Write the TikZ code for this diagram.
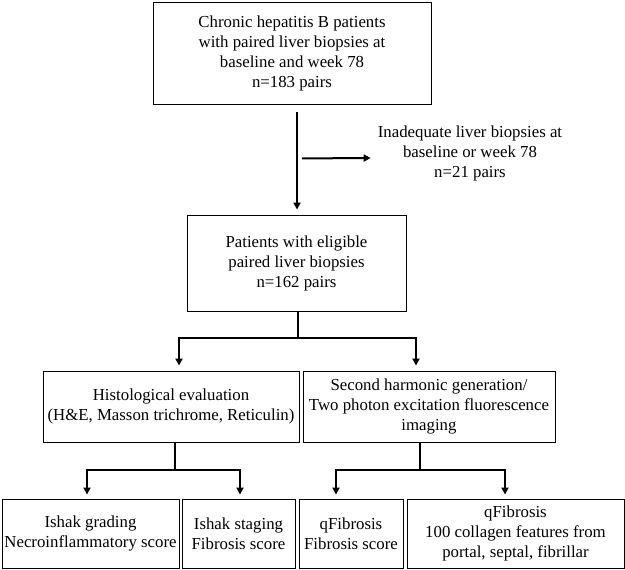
\documentclass[tikz,border=0pt]{standalone}
\usepackage{fontspec}
\setmainfont{Liberation Serif}
\usetikzlibrary{arrows.meta,calc}
\begin{document}
\begin{tikzpicture}[x=1pt,y=-1pt,
  box/.style={draw=black,line width=0.9pt,align=center,inner sep=0pt,font=\fontsize{16.8}{20}\selectfont},
  txt/.style={align=center,inner sep=0pt,font=\fontsize{16.8}{20}\selectfont},
  thk/.style={line width=2pt},
  arr/.style={line width=2pt,-{Triangle[length=7pt,width=7pt]}}]
\useasboundingbox (0,0) rectangle (625,570);
\node[box,minimum width=278pt,minimum height=102pt] (A) at (292,53) {Chronic hepatitis B patients\\with paired liver biopsies at\\baseline and week 78\\n=183 pairs};
\node[txt] (excl) at (470,153) {Inadequate liver biopsies at\\baseline or week 78\\n=21 pairs};
\node[box,minimum width=219pt,minimum height=96pt] (B) at (296.5,263) {Patients with eligible\\paired liver biopsies\\n=162 pairs};
\node[box,minimum width=256pt,minimum height=71pt] (C) at (171,406.5) {Histological evaluation\\(H\&E, Masson trichrome, Reticulin)};
\node[box,minimum width=252pt,minimum height=71pt] (D) at (429,406.5) {Second harmonic generation/\\Two photon excitation fluorescence\\imaging};
\node[box,minimum width=177pt,minimum height=69pt] (E) at (90.5,533.5) {Ishak grading\\Necroinflammatory score};
\node[box,minimum width=113pt,minimum height=69pt] (F) at (238.5,533.5) {Ishak staging\\Fibrosis score};
\node[box,minimum width=104pt,minimum height=69pt] (G) at (351,533.5) {qFibrosis\\Fibrosis score};
\node[box,minimum width=217pt,minimum height=69pt] (H) at (515.5,533.5) {qFibrosis\\100 collagen features from\\portal, septal, fibrillar};
% connectors
\draw[arr] ($(A.south)+(5,8)$) -- ($(B.north)+(0.5,-5)$);
\coordinate (j) at ($(A.south)+(10,54)$);
\draw[arr] (j) -- ($(excl.west)+(-7,5)$);
\draw[thk] ($(B.south)+(1.5,0)$) -- ++(0,27) coordinate (bb);
\draw[arr] (bb) -| ($(C.north)+(8,-5)$);
\draw[arr] (bb) -| ($(D.north)+(-13,-5)$);
\draw[thk] ($(C.south)+(4,0)$) -- ++(0,28) coordinate (cc);
\draw[arr] (cc) -| ($(E.north)+(-3.5,-4)$);
\draw[arr] (cc) -| ($(F.north)+(1.5,-4)$);
\draw[thk] ($(D.south)+(-9,0)$) -- ++(0,28) coordinate (dd);
\draw[arr] (dd) -| ($(G.north)+(-15,-4)$);
\draw[arr] (dd) -| ($(H.north)+(-10.5,-4)$);
\end{tikzpicture}
\end{document}
